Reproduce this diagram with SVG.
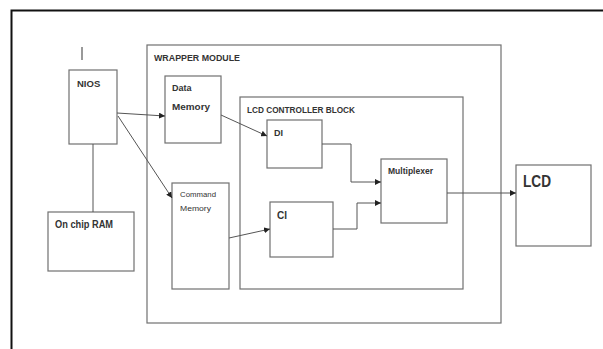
<svg xmlns="http://www.w3.org/2000/svg" width="603" height="349" viewBox="0 0 603 349">
<style>
.box{fill:#fff;stroke:#707070;stroke-width:1.2}
.t{font-family:"Liberation Sans",Arial,sans-serif;font-weight:bold;fill:#333;font-size:9px}
.c{fill:none;stroke:#555;stroke-width:1}
</style>
<defs>
<marker id="ah" markerWidth="6" markerHeight="6" refX="6" refY="3" orient="auto" markerUnits="userSpaceOnUse">
<path d="M0,0 L6,3 L0,6 z" fill="#222"/>
</marker>
</defs>
<rect width="603" height="349" fill="#fff"/>
<path d="M11.5,349 V10.5 H603" fill="none" stroke="#111" stroke-width="2"/>
<line x1="82" y1="47" x2="82" y2="60" stroke="#555" stroke-width="1.2"/>
<g id="wrapper"><rect class="box" x="147" y="45" width="354" height="278"/><text class="t" x="154" y="61" textLength="86" lengthAdjust="spacingAndGlyphs">WRAPPER MODULE</text></g>
<g id="lcdctrl"><rect class="box" x="240" y="97" width="223" height="192"/><text class="t" x="247" y="113" textLength="108" lengthAdjust="spacingAndGlyphs">LCD CONTROLLER BLOCK</text></g>
<g id="nios"><rect class="box" x="69" y="70" width="48" height="74"/><text class="t" x="77" y="87" style="font-size:9.5px">NIOS</text></g>
<g id="ram"><rect class="box" x="48" y="212" width="86" height="59"/><text class="t" x="55" y="228" style="font-size:10px" textLength="58" lengthAdjust="spacingAndGlyphs">On chip RAM</text></g>
<g id="datamem"><rect class="box" x="165" y="76" width="56" height="67"/><text class="t" x="172" y="91">Data</text><text class="t" x="172" y="110" textLength="38" lengthAdjust="spacingAndGlyphs">Memory</text></g>
<g id="cmdmem"><rect class="box" x="172" y="183" width="57" height="106"/><text class="t" x="180" y="197" style="font-size:7.5px;font-weight:normal" textLength="36" lengthAdjust="spacingAndGlyphs">Command</text><text class="t" x="180" y="211" style="font-size:7.5px;font-weight:normal" textLength="31" lengthAdjust="spacingAndGlyphs">Memory</text></g>
<g id="di"><rect class="box" x="267" y="120" width="55" height="48"/><text class="t" x="274" y="136">DI</text></g>
<g id="ci"><rect class="box" x="270" y="202" width="63" height="55"/><text class="t" x="277" y="219" style="font-size:10px">CI</text></g>
<g id="mux"><rect class="box" x="381" y="159" width="66" height="64"/><text class="t" x="388" y="174" style="font-size:8.5px" textLength="45" lengthAdjust="spacingAndGlyphs">Multiplexer</text></g>
<g id="lcd"><rect class="box" x="516" y="165" width="75" height="81"/><text class="t" x="523" y="187" style="font-size:16px" textLength="28" lengthAdjust="spacingAndGlyphs">LCD</text></g>
<g id="connectors">
<line class="c" x1="93" y1="144" x2="93" y2="212"/>
<line class="c" x1="117" y1="113" x2="165" y2="116" marker-end="url(#ah)"/>
<line class="c" x1="118" y1="116" x2="172" y2="198" marker-end="url(#ah)"/>
<line class="c" x1="221" y1="115" x2="267" y2="136" marker-end="url(#ah)"/>
<line class="c" x1="229" y1="238" x2="270" y2="229" marker-end="url(#ah)"/>
<polyline class="c" points="322,144 351,144 351,182 381,182" marker-end="url(#ah)"/>
<polyline class="c" points="333,229 357,229 357,203 381,203" marker-end="url(#ah)"/>
<line class="c" x1="447" y1="193" x2="516" y2="193" marker-end="url(#ah)"/>
</g>
</svg>
